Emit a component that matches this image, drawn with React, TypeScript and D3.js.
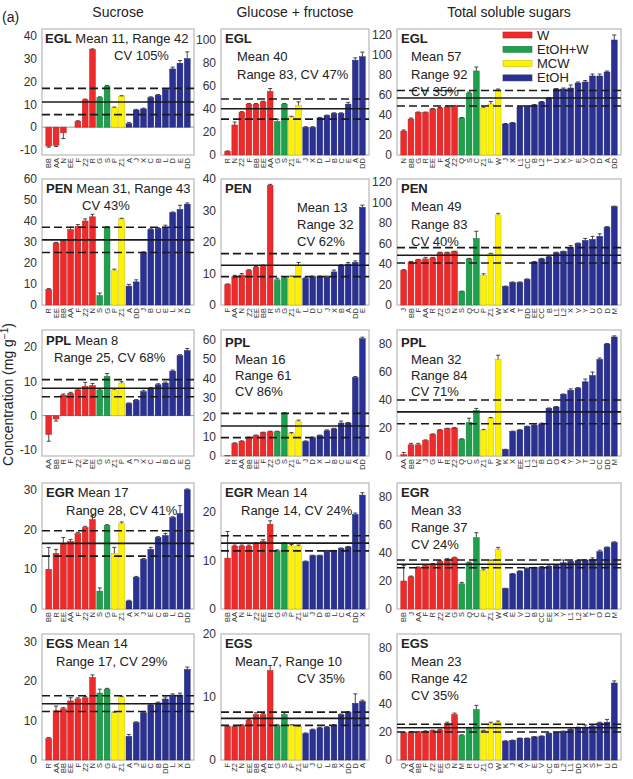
import React from "react";
import * as d3 from "d3";

// ---- data ----
const colTitles = ["Sucrose", "Glucose + fructose", "Total soluble sugars"];
const groupNames = ["W", "EtOH+W", "MCW", "EtOH"];
const groupColors = ["#ee2a2a", "#1ea04c", "#fff200", "#2b3192"];
const sizes20 = [7, 2, 2, 9];
const sizes30 = [8, 3, 3, 16];

// EGL
const eglSucLabels = ["BB","AA","N","EE","F","Z2","R","G","S","P","Z1","A","J","X","C","B","L","D","E","DD"];
const eglSucValues = [-8.3,-8,-2.5,0,2.5,12,34,13,18,8.5,13.5,1.5,7.5,8,13,14,16.5,25.5,28,30];
const eglSucErr = [0.5,0.5,2.5,0,0.3,0.3,0.3,0.3,0.3,0.3,0.3,0.5,0.3,0.3,0.3,0.3,0.3,0.8,1.2,3];
const eglSucStats = [5.5, 11, 17];
const eglGfLabels = ["R","N","Z2","F","BB","EE","AA","G","S","Z1","P","J","X","D","L","B","C","E","A","DD"];
const eglGfValues = [3,26,37,44,44,46,55,29,44,33,43,24,24,32,34,36,36,44,82,85];
const eglGfErr = [0.5,2.5,0.5,0.5,0.5,0.5,2.5,2,0.5,0.5,3,0.5,0.5,0.5,0.5,0.5,0.5,1.5,2,4];
const eglGfStats = [31, 40, 48.5];
const eglTotLabels = ["N","BB","G","R","EE","F","AA","Z2","Q","S","C","Z1","P","W","J","X","L1","CC","B","L2","T","U","K","Y","E","V","O","D","A","DD"];
const eglTotValues = [24,36,42.5,42.5,46,47,48,49,37,62,84,47,51,65,31,32,48,49,50,53,57,66,66,67,72,73,79,79,83,115];
const eglTotErr = [1,1,0.5,0.5,0.5,0.5,1,0.5,0.5,1,4,1,2.5,1,0.5,0.5,0.5,0.5,0.5,0.5,0.5,0.5,1,3,1,1.5,2,2,1,5];
const eglTotStats = [49, 57, 64.5];

// PEN
const penSucLabels = ["R","EE","BB","AA","F","Z2","N","S","G","P","Z1","A","DD","J","B","C","E","L","X","D"];
const penSucValues = [7.5,29.5,30.5,36,37.5,40,42,4.5,37,16.5,41,9,11,25,36,36.5,37,44,45.5,48];
const penSucErr = [0.3,0.3,0.3,1,0.8,1,1.2,1.2,0.3,0.6,0.3,0.8,1,0.3,0.3,0.3,1,0.3,2,0.6];
const penSucStats = [25, 31, 37];
const penGfLabels = ["F","AA","N","Z2","EE","BB","R","S","G","Z1","P","L","D","C","J","X","B","A","DD","E"];
const penGfValues = [6.5,9,9.5,11,12,12.5,38,8,8.5,9,12.5,8.5,9,9,9,10.5,12.5,13,13.5,31];
const penGfErr = [0.2,0.4,0.5,0.2,0.2,0.2,0.3,0.5,0.3,0.2,1,0.3,0.2,0.2,0.2,0.6,0.3,0.5,0.5,0.7];
const penGfStats = [9, 12.6, 16.3];
const penTotLabels = ["J","BB","F","AA","R","Z2","G","N","S","Q","C","P","Z1","W","K","A","T","DD","EE","CC","B","L1","L2","X","V","Y","U","O","D","M"];
const penTotValues = [34,42,44,45,46,51,51,52,13,45,65,29,50,88,18,22,22,25,42,45,47,51,52,56,60,63,64,67,76,96];
const penTotErr = [0.5,0.5,0.5,1.5,0.5,0.5,0.5,0.5,0.5,0.5,7,1.5,0.5,1.5,0.5,0.5,0.5,0.5,0.5,0.5,0.5,0.5,0.5,2,0.5,2,3,2.5,0.5,0.5];
const penTotStats = [41, 48.5, 56];

// PPL
const pplSucLabels = ["AA","BB","R","F","Z2","N","EE","G","S","Z1","P","A","J","X","C","L","B","D","E","DD"];
const pplSucValues = [-5.5,-1,6,6.5,7.5,8.5,8.8,7.5,11.5,7.5,9.5,3.5,4.5,7,8,9,9.5,13,17.5,19];
const pplSucErr = [2,0.6,0.3,0.3,0.3,1.2,0.6,0.3,0.8,0.3,0.4,0.2,0.2,0.4,0.2,0.3,0.3,0.3,0.3,0.6];
const pplSucStats = [5.5, 8, 10.5];
const pplGfLabels = ["N","R","AA","BB","EE","F","Z2","G","S","Z1","P","J","D","X","L","B","C","E","A","DD"];
const pplGfValues = [0.3,6.5,7.5,9.5,10.5,12,12.5,12.5,22,11.5,18,7.5,9.5,10.5,13,14,17,17,40.5,60.5];
const pplGfErr = [0,0.3,0.3,0.3,0.3,0.3,0.3,0.3,0.3,0.6,0.5,0.3,0.3,0.3,0.5,0.3,1,0.3,0.5,0.8];
const pplGfStats = [9.5, 15.5, 22];
const pplTotLabels = ["AA","BB","N","J","G","F","R","Z2","Q","C","S","Z1","P","W","K","X","EE","L1","L2","B","D","O","A","Y","V","T","U","CC","DD","M"];
const pplTotValues = [1,8,8,11,15.5,18.5,19.5,20,12,24,32.5,18.5,27,69,4.5,17.5,18.5,21,22,23,34,35,44,47,48.5,53,57.5,69,80,85];
const pplTotErr = [1.5,1,1,0.5,0.3,0.3,0.3,0.3,0.3,3,1.5,0.5,0.5,3,0.3,0.3,0.3,0.3,0.3,0.5,0.3,0.3,0.3,1,0.3,2,2.5,1,0.3,0.8];
const pplTotStats = [23, 31.5, 40];

// EGR
const egrSucLabels = ["BB","R","EE","AA","F","Z2","N","S","G","P","Z1","A","X","J","E","C","B","L","D","DD"];
const egrSucValues = [10,14,16.5,17,19,20.5,22.5,4.5,21,14,21.5,2,8,12.5,15,18,18.5,23,24,30];
const egrSucErr = [5.5,1,1.5,0.5,0.3,0.3,1,0.8,0.2,1.5,0.4,0.2,0.2,0.2,0.5,0.2,0.5,0.2,2,0.2];
const egrSucStats = [13.3, 16.5, 19.7];
const egrGfLabels = ["BB","AA","N","F","Z2","EE","R","G","S","P","Z1","E","J","D","B","L","C","A","DD","X"];
const egrGfValues = [10.5,13,13,13,13.5,14,17.5,12,13.5,13,13,9.8,11,11,12,12,12.5,12.8,19.5,23.5];
const egrGfErr = [5.5,0.2,0.2,0.2,0.2,0.3,0.7,0.2,0.2,0.3,0.2,0.1,0.1,0.1,0.1,0.1,0.1,0.1,0.3,0.5];
const egrGfStats = [12, 13.6, 15.1];
const egrTotLabels = ["BB","J","AA","F","R","Z2","N","G","S","Q","C","P","Z1","W","A","E","V","U","B","CC","EE","X","Y","L1","L2","K","T","O","D","M"];
const egrTotValues = [20,23,29.5,31,32,34,35.5,36.5,18,33,51,27.5,34.5,42.5,14.5,25,27,29,29.5,30,30.5,31,33,34,34.5,35,35.5,41,44,47.5];
const egrTotErr = [11,0.5,0.5,0.5,0.5,0.5,0.5,0.5,1,0.5,3.5,1,0.5,1.5,0.3,0.3,0.3,0.3,0.3,0.3,0.3,0.3,2,0.3,0.3,0.3,1,1,0.3,0.5];
const egrTotStats = [29.5, 32, 35];

// EGS
const egsSucLabels = ["R","AA","BB","EE","F","Z2","N","S","G","P","Z1","A","J","E","C","B","DD","L","X","D"];
const egsSucValues = [5.5,12.5,13,15,15.5,15.8,21,17,18,12,16,6,9.5,12,14,14.5,15.5,16.5,16.5,23];
const egsSucErr = [0.2,1.2,0.3,0.8,0.3,0.3,0.6,1,0.2,0.2,0.2,0.5,0.2,0.2,0.2,0.2,0.5,0.3,0.5,0.6];
const egsSucStats = [12.3, 14.3, 16.3];
const egsGfLabels = ["F","Z2","N","EE","BB","AA","R","G","S","P","Z1","E","J","C","L","B","X","DD","D","A"];
const egsGfValues = [5.3,5.3,5.5,6.3,7.2,7.2,14.2,5.5,7.2,5.5,5.3,4.2,4.8,5.1,5.2,5.5,7.2,7.6,9,9.3];
const egsGfErr = [0.1,0.1,0.1,0.1,0.3,0.2,0.8,0.1,0.3,0.1,0.1,0.1,0.1,0.1,0.1,0.1,0.1,0.1,1.5,0.2];
const egsGfStats = [5.5, 6.6, 7.6];
const egsTotLabels = ["Q","AA","BB","F","Z2","EE","G","N","M","R","C","Z1","O","W","K","J","A","Y","E","V","CC","B","L2","L1","DD","X","S","T","U","D"];
const egsTotValues = [19.5,20,20,20.5,21,21.5,26,32.5,17.5,23,36,21,26,27,13.5,14,15.5,15.5,16.5,17,19,19.5,20.5,22,23,23.5,24,26.5,27,55];
const egsTotErr = [0.3,0.3,0.3,0.3,0.3,0.5,1,1,0.5,0.3,3,0.3,1,0.8,0.2,0.2,0.2,0.2,0.2,0.2,0.2,0.2,0.2,0.2,0.5,1.5,0.5,0.5,2,1.5];
const egsTotStats = [20, 23, 25.5];

// ---- layout ----
const FONT = "'Liberation Sans', Arial, Helvetica, sans-serif";
const colX = [42, 221, 397];
const colW = [152, 148, 224];
const rowY = [29, 179, 330, 483, 634];
const rowH = 126;

type Part = { t: string; b?: boolean };
type Note = { dx: number; dy: number; parts: Part[] };
const n = (dx: number, dy: number, t: string, bold?: string): Note => ({
  dx, dy, parts: bold ? [{ t: bold, b: true }, { t }] : [{ t }],
});

const panels = [
  // row 0
  { r: 0, c: 0, labels: eglSucLabels, values: eglSucValues, errs: eglSucErr, stats: eglSucStats, domain: [-12.2, 43], step: 10, sizes: sizes20,
    notes: [n(3, 14, " Mean 11, Range 42", "EGL"), n(72, 31, "CV 105%")] },
  { r: 0, c: 1, labels: eglGfLabels, values: eglGfValues, errs: eglGfErr, stats: eglGfStats, domain: [0, 109], step: 20, sizes: sizes20,
    notes: [n(4, 14, "", "EGL"), n(16, 32, "Mean 40"), n(16, 50, "Range 83, CV 47%")] },
  { r: 0, c: 2, labels: eglTotLabels, values: eglTotValues, errs: eglTotErr, stats: eglTotStats, domain: [0, 126], step: 20, sizes: sizes30,
    notes: [n(4, 14, "", "EGL"), n(14, 32, "Mean 57"), n(14, 50, "Range 92"), n(14, 67, "CV 35%")], legend: true },
  // row 1
  { r: 1, c: 0, labels: penSucLabels, values: penSucValues, errs: penSucErr, stats: penSucStats, domain: [0, 60], step: 10, sizes: sizes20,
    notes: [n(4, 14, " Mean 31, Range 43", "PEN"), n(40, 31, "CV 43%")] },
  { r: 1, c: 1, labels: penGfLabels, values: penGfValues, errs: penGfErr, stats: penGfStats, domain: [0, 40], step: 10, sizes: sizes20,
    notes: [n(4, 14, "", "PEN"), n(76, 33, "Mean 13"), n(76, 50, "Range 32"), n(76, 67, "CV 62%")] },
  { r: 1, c: 2, labels: penTotLabels, values: penTotValues, errs: penTotErr, stats: penTotStats, domain: [0, 123], step: 20, sizes: sizes30,
    notes: [n(4, 14, "", "PEN"), n(14, 32, "Mean 49"), n(14, 50, "Range 83"), n(14, 67, "CV 40%")] },
  // row 2
  { r: 2, c: 0, labels: pplSucLabels, values: pplSucValues, errs: pplSucErr, stats: pplSucStats, domain: [-11.8, 25], step: 10, sizes: sizes20,
    notes: [n(4, 15, "  Mean 8", "PPL"), n(12, 32, "Range 25, CV 68%")] },
  { r: 2, c: 1, labels: pplGfLabels, values: pplGfValues, errs: pplGfErr, stats: pplGfStats, domain: [0, 65], step: 10, sizes: sizes20,
    notes: [n(4, 17, "", "PPL"), n(14, 34, "Mean 16"), n(14, 50, "Range 61"), n(14, 66, "CV 86%")] },
  { r: 2, c: 2, labels: pplTotLabels, values: pplTotValues, errs: pplTotErr, stats: pplTotStats, domain: [0, 90], step: 20, sizes: sizes30,
    notes: [n(4, 17, "", "PPL"), n(14, 34, "Mean 32"), n(14, 50, "Range 84"), n(14, 66, "CV 71%")] },
  // row 3
  { r: 3, c: 0, labels: egrSucLabels, values: egrSucValues, errs: egrSucErr, stats: egrSucStats, domain: [0, 31.7], step: 10, sizes: sizes20,
    notes: [n(4, 14, " Mean 17", "EGR"), n(24, 32, "Range 28, CV 41%")] },
  { r: 3, c: 1, labels: egrGfLabels, values: egrGfValues, errs: egrGfErr, stats: egrGfStats, domain: [0, 26], step: 10, sizes: sizes20,
    notes: [n(4, 14, " Mean 14", "EGR"), n(20, 32, "Range 14, CV 24%")] },
  { r: 3, c: 2, labels: egrTotLabels, values: egrTotValues, errs: egrTotErr, stats: egrTotStats, domain: [0, 90], step: 20, sizes: sizes30,
    notes: [n(4, 14, "", "EGR"), n(14, 32, "Mean 33"), n(14, 49, "Range 37"), n(14, 66, "CV 24%")] },
  // row 4
  { r: 4, c: 0, labels: egsSucLabels, values: egsSucValues, errs: egsSucErr, stats: egsSucStats, domain: [0, 32], step: 10, sizes: sizes20,
    notes: [n(4, 14, " Mean 14", "EGS"), n(14, 32, "Range 17, CV 29%")] },
  { r: 4, c: 1, labels: egsGfLabels, values: egsGfValues, errs: egsGfErr, stats: egsGfStats, domain: [0, 20], step: 10, sizes: sizes20,
    notes: [n(4, 14, "", "EGS"), n(14, 32, "Mean 7, Range 10"), n(76, 49, "CV 35%")] },
  { r: 4, c: 2, labels: egsTotLabels, values: egsTotValues, errs: egsTotErr, stats: egsTotStats, domain: [0, 90], step: 20, sizes: sizes30,
    notes: [n(4, 14, "", "EGS"), n(14, 32, "Mean 23"), n(14, 49, "Range 42"), n(14, 66, "CV 35%")] },
];

function Panel({ p }: { p: any }) {
  const x = colX[p.c], w = colW[p.c], y = rowY[p.r], h = rowH;
  const ys = d3.scaleLinear().domain(p.domain).range([y + h, y]);
  const xs = d3.scaleBand<number>().domain(d3.range(p.labels.length)).range([x + 2, x + w - 2]).paddingInner(0.2).paddingOuter(0.25);
  const bounds = d3.cumsum(p.sizes);
  const groupOf = (i: number) => bounds.findIndex((b: number) => i < b);
  const ticks = d3.range(Math.ceil(p.domain[0] / p.step) * p.step, p.domain[1] + 1e-6, p.step);
  const bw = xs.bandwidth();
  return (
    <g>
      <rect x={x} y={y} width={w} height={h} fill="#fff" stroke="#b8b8b8" strokeWidth={1.2} />
      {ticks.map((t) => (
        <text key={t} x={x - 5} y={ys(t)} dy="0.35em" textAnchor="end" fontSize={12} fill="#333">{t}</text>
      ))}
      {p.domain[0] < 0 && <line x1={x} x2={x + w} y1={ys(0)} y2={ys(0)} stroke="#999" strokeWidth={1} />}
      {p.values.map((v: number, i: number) => {
        const col = groupColors[groupOf(i)];
        const cx = xs(i)! + bw / 2;
        const e = p.errs[i];
        const ye = v >= 0 ? ys(v + e) : ys(v - e);
        return (
          <g key={i}>
            <rect x={xs(i)} y={ys(Math.max(0, v))} width={bw} height={Math.abs(ys(v) - ys(0))}
              fill={col} stroke={d3.color(col)!.darker(0.7).formatHex()} strokeWidth={0.5} />
            {e > 0 && (
              <g stroke="#333" strokeWidth={0.9}>
                <line x1={cx} x2={cx} y1={ys(v)} y2={ye} />
                <line x1={cx - 2} x2={cx + 2} y1={ye} y2={ye} />
              </g>
            )}
          </g>
        );
      })}
      {p.stats.map((s: number, i: number) => (
        <line key={i} x1={x} x2={x + w} y1={ys(s)} y2={ys(s)} stroke="#1a1a1a" strokeWidth={1.6}
          strokeDasharray={i === 1 ? undefined : "8,4"} />
      ))}
      {p.labels.map((l: string, i: number) => {
        const cx = xs(i)! + bw / 2;
        return (
          <text key={i} transform={`translate(${cx},${y + h + 3}) rotate(-90)`} textAnchor="end" dy="0.35em"
            fontSize={7.5} fill="#333">{l}</text>
        );
      })}
      {p.notes.map((nt: Note, i: number) => (
        <text key={i} x={x + nt.dx} y={y + nt.dy} fontSize={13} fill="#222">
          {nt.parts.map((pt, j) => (
            <tspan key={j} fontWeight={pt.b ? "bold" : "normal"}>{pt.t}</tspan>
          ))}
        </text>
      ))}
      {p.legend && groupNames.map((g, i) => (
        <g key={g}>
          <rect x={x + 106} y={y + 3 + i * 14.3} width={29} height={6} fill={groupColors[i]}
            stroke={d3.color(groupColors[i])!.darker(0.7).formatHex()} strokeWidth={0.6} />
          <text x={x + 140} y={y + 6 + i * 14.3} dy="0.35em" fontSize={13} fill="#222">{g}</text>
        </g>
      ))}
    </g>
  );
}

export default function App() {
  return (
    <svg width={633} height={779} style={{ position: "absolute", left: 0, top: 0, fontFamily: FONT }}>
      <rect width={633} height={779} fill="#fff" />
      <text x={2} y={22} fontSize={14} fill="#222">(a)</text>
      {colTitles.map((t, i) => (
        <text key={t} x={colX[i] + colW[i] / 2} y={17} textAnchor="middle" fontSize={14} fill="#222">{t}</text>
      ))}
      <text transform={`translate(13,${(rowY[0] + rowY[4] + rowH) / 2}) rotate(-90)`} textAnchor="middle" fontSize={14} fill="#222">
        Concentration (mg g<tspan dy={-5} fontSize={10}>−1</tspan><tspan dy={5}>)</tspan>
      </text>
      {panels.map((p, i) => <Panel key={i} p={p} />)}
    </svg>
  );
}
